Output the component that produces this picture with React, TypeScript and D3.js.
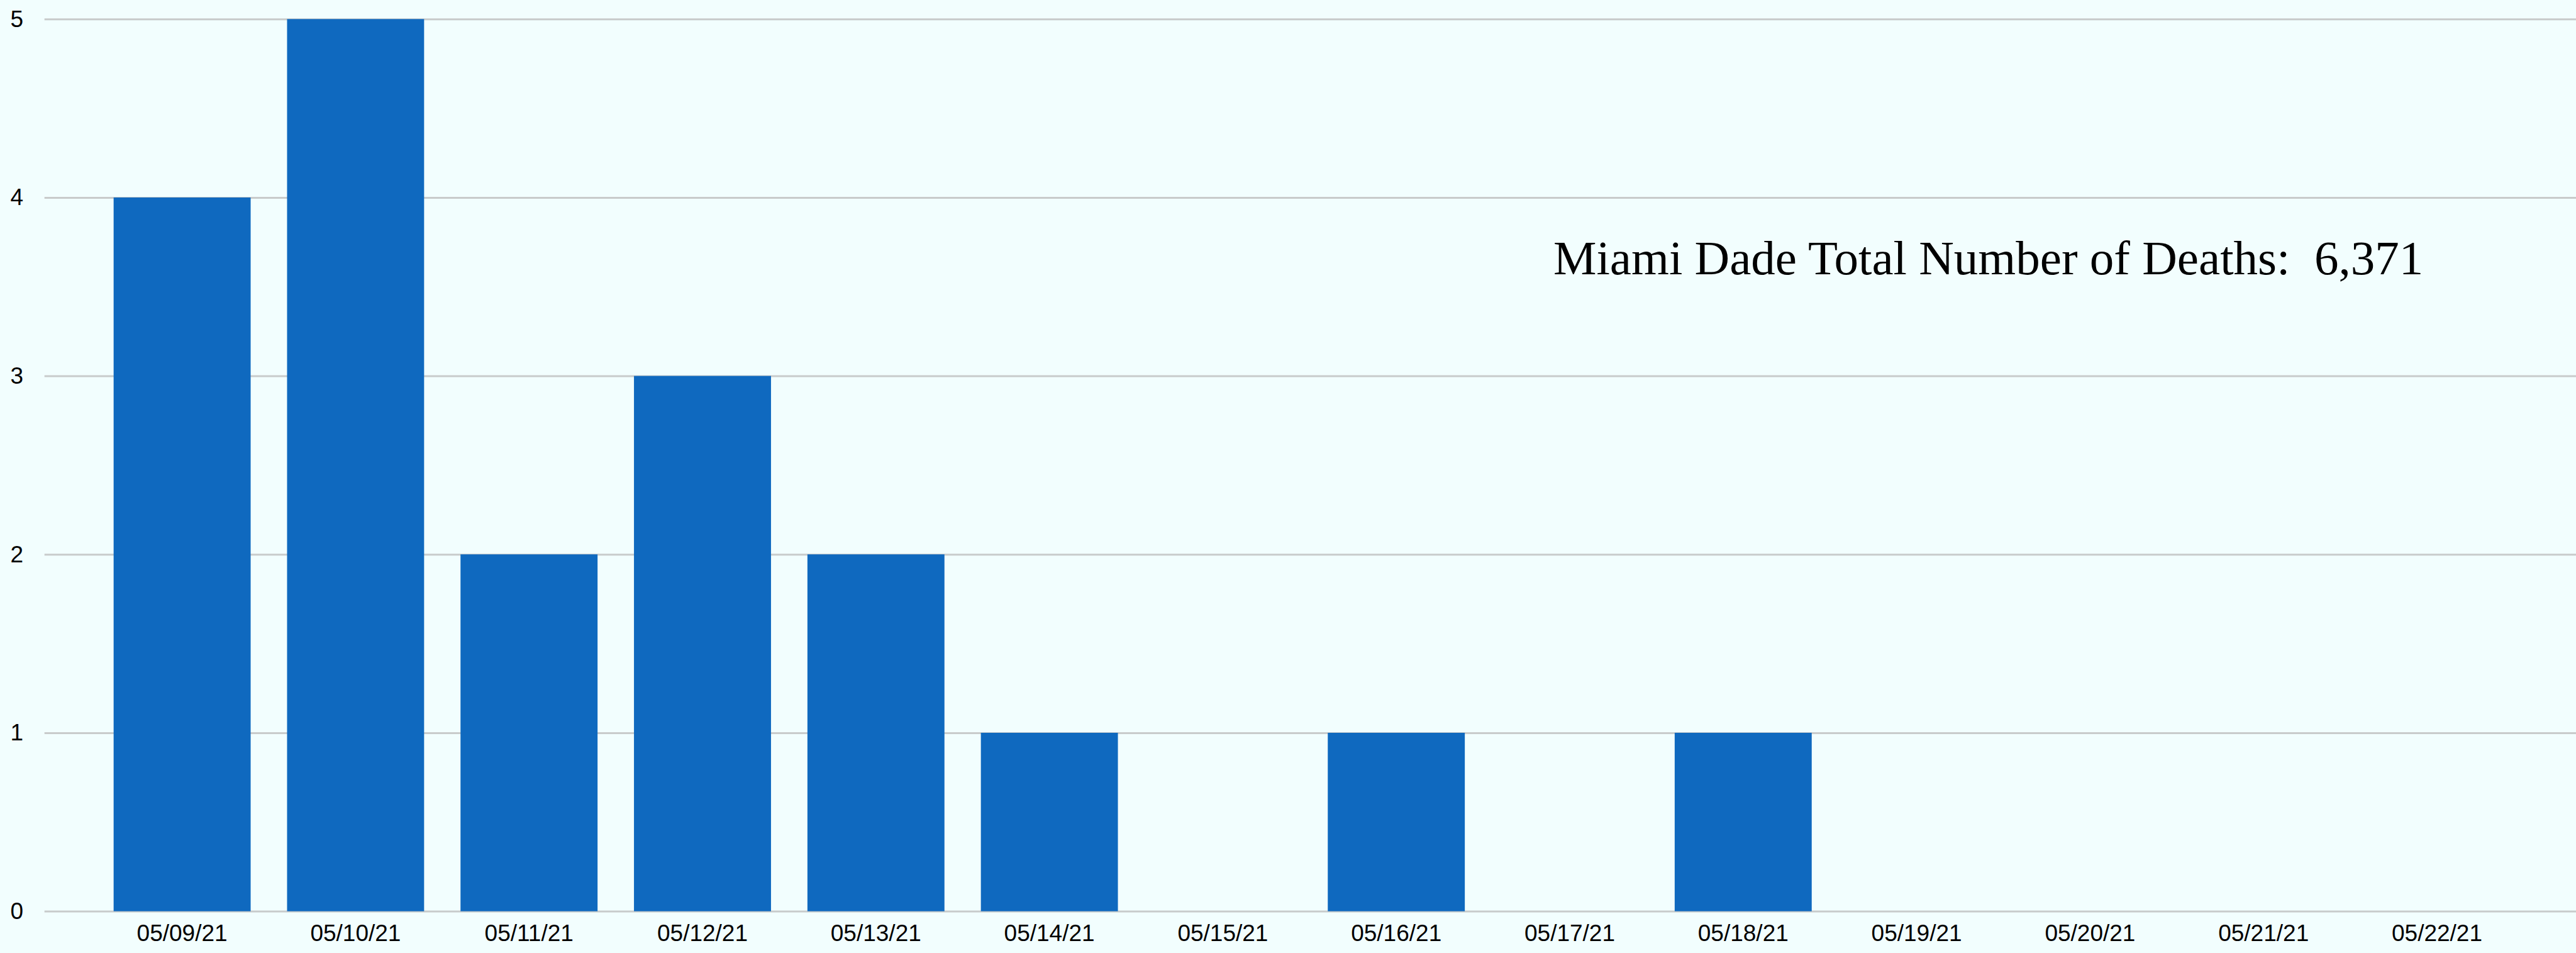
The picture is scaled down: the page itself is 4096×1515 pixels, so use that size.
import React, { useRef, useEffect } from "react";
import * as d3 from "d3";

const dates = [
  "05/09/21", "05/10/21", "05/11/21", "05/12/21", "05/13/21", "05/14/21", "05/15/21",
  "05/16/21", "05/17/21", "05/18/21", "05/19/21", "05/20/21", "05/21/21", "05/22/21",
];
const deaths = [4, 5, 2, 3, 2, 1, 0, 1, 0, 1, 0, 0, 0, 0];
const yTicks = [0, 1, 2, 3, 4, 5];
const note = "Miami Dade Total Number of Deaths:  6,371";

const W = 4096;
const H = 1515;

const App = () => {
  const ref = useRef<SVGSVGElement>(null);

  useEffect(() => {
    document.body.style.margin = "0";
    const svg = d3.select(ref.current);
    svg.selectAll("*").remove();

    const x = d3
      .scaleBand()
      .domain(dates)
      .range([151.7, 4012.9])
      .paddingInner(0.21)
      .paddingOuter(0.105);

    const y = d3.scaleLinear().domain([0, 5]).range([1448.6, 30.3]);

    // gridlines + y labels
    const yAxis = d3
      .axisLeft(y)
      .tickValues(yTicks)
      .tickFormat(d3.format("d"))
      .tickSize(-(W - 70.7))
      .tickPadding(33.7);
    const gy = svg.append("g").attr("transform", "translate(70.7,0)").call(yAxis);
    gy.select(".domain").remove();
    gy.selectAll(".tick line").attr("stroke", "#c8cbcb").attr("stroke-width", 3);
    gy.selectAll(".tick text")
      .attr("font-family", "'Liberation Sans', Arial, sans-serif")
      .attr("font-size", 37)
      .attr("fill", "#000");

    // bars
    svg
      .append("g")
      .selectAll("rect")
      .data(deaths)
      .join("rect")
      .attr("x", (d, i) => x(dates[i]))
      .attr("y", (d) => y(d))
      .attr("width", x.bandwidth())
      .attr("height", (d) => y(0) - y(d))
      .attr("fill", "#0f69bf");

    // x labels
    const xAxis = d3.axisBottom(x).tickSize(0).tickPadding(0);
    const gx = svg.append("g").attr("transform", "translate(0,1470)").call(xAxis);
    gx.select(".domain").remove();
    gx.selectAll(".tick text")
      .attr("font-family", "'Liberation Sans', Arial, sans-serif")
      .attr("font-size", 37)
      .attr("fill", "#000");

    svg
      .append("text")
      .attr("x", 2470)
      .attr("y", 436)
      .attr("font-family", "'Liberation Serif', 'Times New Roman', serif")
      .attr("font-size", 77)
      .attr("fill", "#000")
      .style("white-space", "pre")
      .text(note);
  }, []);

  return (
    <svg
      ref={ref}
      width={W}
      height={H}
      style={{ display: "block", background: "#f2fefe" }}
    />
  );
};

export default App;
